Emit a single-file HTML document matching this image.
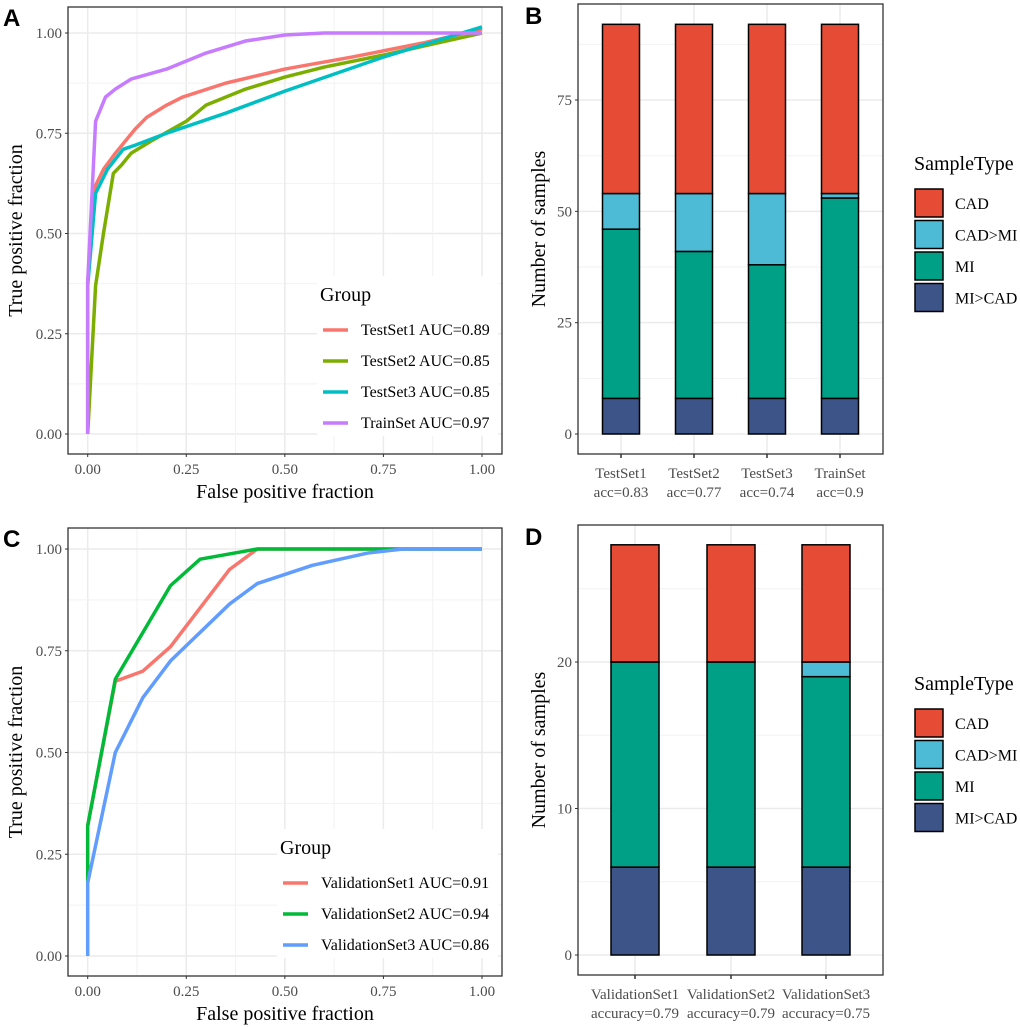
<!DOCTYPE html>
<html><head><meta charset="utf-8">
<style>
body{margin:0;background:#fff;}
svg{display:block;font-family:"Liberation Serif",serif;}
.tick{font-size:15px;fill:#4d4d4d;}
.axt{font-size:20px;fill:#000;}
.lab{font-family:"Liberation Sans",sans-serif;font-weight:bold;font-size:24px;}
.leg{font-size:16px;fill:#000;}
.legt{font-size:20px;fill:#000;}
</style></head>
<body>
<svg id="fig" width="1020" height="1027" viewBox="0 0 1020 1027" xmlns="http://www.w3.org/2000/svg"></svg>
<script>
// ---------- Data ----------
const rocAnames = ["TestSet1 AUC=0.89","TestSet2 AUC=0.85","TestSet3 AUC=0.85","TrainSet AUC=0.97"];
const rocAcolors = ["#f8766d","#7cae00","#00bfc4","#c77cff"];
const ts1X=[0,0,0.02,0.04,0.07,0.12,0.15,0.2,0.24,0.35,0.5,0.67,0.85,1];
const ts1Y=[0,0.38,0.62,0.66,0.70,0.76,0.79,0.82,0.84,0.875,0.91,0.94,0.975,1.01];
const ts2X=[0,0.02,0.04,0.065,0.085,0.11,0.16,0.25,0.3,0.4,0.5,0.6,0.75,1];
const ts2Y=[0,0.37,0.5,0.65,0.67,0.70,0.73,0.78,0.82,0.86,0.89,0.915,0.945,1.0];
const ts3X=[0,0,0.02,0.05,0.09,0.12,0.2,0.35,0.5,0.75,1];
const ts3Y=[0,0.37,0.6,0.66,0.71,0.72,0.75,0.80,0.855,0.94,1.015];
const trX=[0,0,0.02,0.045,0.07,0.11,0.2,0.3,0.4,0.5,0.6,1];
const trY=[0,0.38,0.78,0.84,0.86,0.885,0.91,0.95,0.98,0.995,1,1];

const rocCnames = ["ValidationSet1 AUC=0.91","ValidationSet2 AUC=0.94","ValidationSet3 AUC=0.86"];
const rocCcolors = ["#f8766d","#00ba38","#619cff"];
const vs1X=[0,0.07,0.14,0.21,0.36,0.43,1];
const vs1Y=[0.32,0.675,0.70,0.76,0.95,1,1];
const vs2X=[0,0,0.07,0.21,0.285,0.43,1];
const vs2Y=[0.18,0.32,0.68,0.91,0.975,1,1];
const vs3X=[0,0,0.07,0.14,0.21,0.36,0.43,0.57,0.71,0.8,1];
const vs3Y=[0,0.18,0.50,0.635,0.725,0.865,0.915,0.96,0.99,1,1];
const rocTicks=[0,0.25,0.5,0.75,1];
const rocTickLabels=["0.00","0.25","0.50","0.75","1.00"];

const stackTypes=["MI>CAD","MI","CAD>MI","CAD"];
const stackColors={"CAD":"#e64b35","CAD>MI":"#4dbbd5","MI":"#00a087","MI>CAD":"#3c5488"};
const legendOrder=["CAD","CAD>MI","MI","MI>CAD"];

const bCats=["TestSet1","TestSet2","TestSet3","TrainSet"];
const bSub=["acc=0.83","acc=0.77","acc=0.74","acc=0.9"];
const bMIgtCAD=[8,8,8,8];
const bMI=[38,33,30,45];
const bCADgtMI=[8,13,16,1];
const bCAD=[38,38,38,38];
const bTicks=[0,25,50,75];

const dCats=["ValidationSet1","ValidationSet2","ValidationSet3"];
const dSub=["accuracy=0.79","accuracy=0.79","accuracy=0.75"];
const dMIgtCAD=[6,6,6];
const dMI=[14,14,13];
const dCADgtMI=[0,0,1];
const dCAD=[8,8,8];
const dTicks=[0,10,20];

// ---------- helpers ----------
const NS="http://www.w3.org/2000/svg";
const svg=document.getElementById('fig');
function mk(tag,attrs,parent){const e=document.createElementNS(NS,tag);for(const k in attrs)e.setAttribute(k,attrs[k]);(parent||svg).appendChild(e);return e;}
function txt(s,attrs,parent){const e=mk('text',attrs,parent);e.textContent=s;return e;}

function rocPanel(letter,box,x0,x1,y0,y1,series,names,colors,legX,legY){
  const g=mk('g',{});
  
  
  const sx=v=>x0+(x1-x0)*v, sy=v=>y0+(y1-y0)*v;
  for(let i=0;i<rocTicks.length;i++){
    const t=rocTicks[i];
    if(i<rocTicks.length-1){const m=(t+rocTicks[i+1])/2;
      mk('line',{x1:box[0],x2:box[2],y1:sy(m),y2:sy(m),stroke:'#f2f2f2','stroke-width':1},g);
      mk('line',{y1:box[1],y2:box[3],x1:sx(m),x2:sx(m),stroke:'#f2f2f2','stroke-width':1},g);}
    mk('line',{x1:box[0],x2:box[2],y1:sy(t),y2:sy(t),stroke:'#ebebeb','stroke-width':1.5},g);
    mk('line',{y1:box[1],y2:box[3],x1:sx(t),x2:sx(t),stroke:'#ebebeb','stroke-width':1.5},g);
  }
  series.forEach((s,i)=>{
    const p=mk('polyline',{points:s[0].map((x,j)=>sx(x)+','+sy(s[1][j])).join(' '),fill:'none',stroke:colors[i],'stroke-width':3.5,'stroke-linejoin':'round'},g);
    
    
  });
  mk('rect',{x:box[0],y:box[1],width:box[2]-box[0],height:box[3]-box[1],fill:'none',stroke:'#333','stroke-width':1.3},g);
  rocTicks.forEach((t,i)=>{
    mk('line',{x1:box[0]-3,x2:box[0],y1:sy(t),y2:sy(t),stroke:'#333'},g);
    txt(rocTickLabels[i],{x:box[0]-6,y:sy(t)+5,'text-anchor':'end',class:'tick'},g);
    mk('line',{y1:box[3],y2:box[3]+3,x1:sx(t),x2:sx(t),stroke:'#333'},g);
    txt(rocTickLabels[i],{x:sx(t),y:box[3]+20,'text-anchor':'middle',class:'tick'},g);
  });
  const xt=txt('False positive fraction',{x:(box[0]+box[2])/2,y:box[3]+44,'text-anchor':'middle',class:'axt'},g);
  
  const cy=(box[1]+box[3])/2;
  const yt=txt('True positive fraction',{x:0,y:0,'text-anchor':'middle',class:'axt',transform:`translate(22,${cy}) rotate(-90)`},g);
  
  const lg=mk('g',{},g);
  
  mk('rect',{x:legX-6,y:legY-26,width:box[2]-legX+2,height:names.length*31+36,fill:'#fff'},lg);
  txt('Group',{x:legX-3,y:legY-1,class:'legt'},lg);
  names.forEach((n,i)=>{
    const yy=legY+33+i*31;
    const e=mk('line',{x1:legX,x2:legX+25,y1:yy-5,y2:yy-5,stroke:colors[i],'stroke-width':3.5},lg);
    
    txt(n,{x:legX+38,y:yy,class:'leg'},lg);
  });
  txt(letter,{x:3,y:box[1]+19,class:'lab'},g);
}

function barPanel(letter,box,y0,ppu,ticks,cats,subs,layers,centers,bw,legY){
  const g=mk('g',{});
  
  
  const sy=v=>y0-v*ppu;
  for(let i=0;i<ticks.length;i++){
    const t=ticks[i];
    const m=t+(ticks[1]-ticks[0])/2;
    if(sy(m)>box[1]) mk('line',{x1:box[0],x2:box[2],y1:sy(m),y2:sy(m),stroke:'#f2f2f2','stroke-width':1},g);
    mk('line',{x1:box[0],x2:box[2],y1:sy(t),y2:sy(t),stroke:'#ebebeb','stroke-width':1.5},g);
  }
  centers.forEach(c=>mk('line',{x1:c,x2:c,y1:box[1],y2:box[3],stroke:'#ebebeb','stroke-width':1.5},g));
  cats.forEach((c,i)=>{
    let base=0;
    layers.forEach((arr,k)=>{
      const v=arr[i];
      if(v>0){
        const r=mk('rect',{x:centers[i]-bw/2,y:sy(base+v),width:bw,height:v*ppu,fill:stackColors[stackTypes[k]],stroke:'#000','stroke-width':1.5},g);
        
        
      }
      base+=v;
    });
  });
  mk('rect',{x:box[0],y:box[1],width:box[2]-box[0],height:box[3]-box[1],fill:'none',stroke:'#333','stroke-width':1.3},g);
  ticks.forEach(t=>{
    mk('line',{x1:box[0]-3,x2:box[0],y1:sy(t),y2:sy(t),stroke:'#333'},g);
    txt(String(t),{x:box[0]-6,y:sy(t)+5,'text-anchor':'end',class:'tick'},g);
  });
  cats.forEach((c,i)=>{
    mk('line',{x1:centers[i],x2:centers[i],y1:box[3],y2:box[3]+4,stroke:'#333','stroke-width':1.5},g);
    txt(c,{x:centers[i],y:box[3]+24,'text-anchor':'middle',class:'tick'},g);
    txt(subs[i],{x:centers[i],y:box[3]+43,'text-anchor':'middle',class:'tick'},g);
  });
  const cy=(box[1]+box[3])/2;
  const yt=txt('Number of samples',{x:0,y:0,'text-anchor':'middle',class:'axt',transform:`translate(${box[0]-33},${cy}) rotate(-90)`},g);
  
  const lg=mk('g',{},g);
  
  txt('SampleType',{x:914,y:legY,class:'legt'},lg);
  legendOrder.forEach((n,i)=>{
    const yy=legY+19+i*31.5;
    const e=mk('rect',{x:915,y:yy,width:28,height:28,fill:stackColors[n],stroke:'#000','stroke-width':1.5},lg);
    
    txt(n,{x:955,y:yy+20,class:'leg'},lg);
  });
  txt(letter,{x:525,y:box[1]+20,class:'lab'},g);
}

rocPanel('A',[68,7,502,454],87.7,482,434,33,
  [[ts1X,ts1Y],[ts2X,ts2Y],[ts3X,ts3Y],[trX,trY]],rocAnames,rocAcolors,323,302);
rocPanel('C',[68,528,502,976],87.7,482,956,549,
  [[vs1X,vs1Y],[vs2X,vs2Y],[vs3X,vs3Y]],rocCnames,rocCcolors,283,855);
barPanel('B',[578,4,883,454],434,4.453,bTicks,bCats,bSub,[bMIgtCAD,bMI,bCADgtMI,bCAD],[621,694,767,840],37,170);
barPanel('D',[578,525,883,975],955,14.65,dTicks,dCats,dSub,[dMIgtCAD,dMI,dCADgtMI,dCAD],[635,731,826],48,690);
</script>
</body></html>
